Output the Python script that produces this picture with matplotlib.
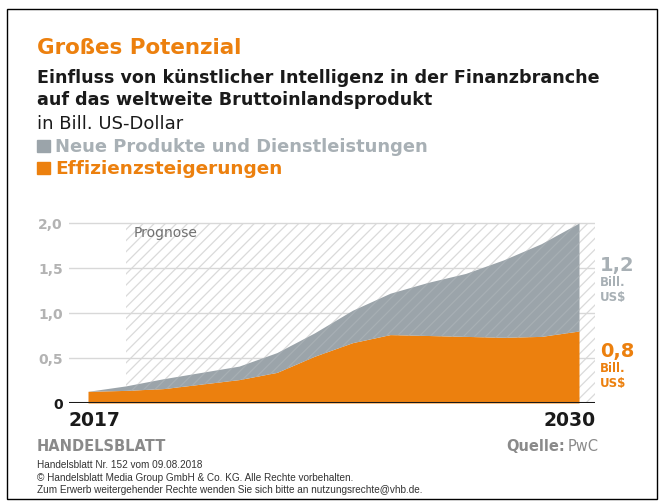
import matplotlib
matplotlib.use("Agg")
import matplotlib.pyplot as plt

# data (Bill. US-Dollar)
years = [2017, 2018, 2019, 2020, 2021, 2022, 2023, 2024, 2025, 2026, 2027, 2028, 2029, 2030]
effizienz = [0.13, 0.14, 0.16, 0.21, 0.26, 0.34, 0.52, 0.67, 0.76, 0.75, 0.74, 0.73, 0.74, 0.80]
neue_produkte = [0.00, 0.05, 0.11, 0.13, 0.15, 0.22, 0.26, 0.36, 0.46, 0.59, 0.70, 0.86, 1.03, 1.20]
prognose_start = 2018
y_ticks = [0, 0.5, 1.0, 1.5, 2.0]
y_tick_labels = ["0", "0,5", "1,0", "1,5", "2,0"]

ORANGE = "#EC800E"
GRAY = "#9BA4AA"
LEGEND_GRAY = "#A8B0B5"
TICK_GRAY = "#B3B3B3"

W, H = 661, 502
fig = plt.figure(figsize=(W / 100, H / 100), dpi=100)
plt.rcParams["hatch.linewidth"] = 0.9


def fy(y):
    return 1 - y / H


def fx(x):
    return x / W


# frame around the whole graphic
fig.patches.append(plt.Rectangle((fx(7), fy(500)), fx(650), (500 - 10) / H,
                                 transform=fig.transFigure, fill=False,
                                 edgecolor="black", linewidth=1))

head = "DejaVu Sans"
fig.text(fx(37), fy(48), "Großes Potenzial", color=ORANGE, fontsize=15.4,
         fontweight="bold", family=head, va="center")
fig.text(fx(37), fy(78), "Einfluss von künstlicher Intelligenz in der Finanzbranche",
         color="#1a1a1a", fontsize=12.6, fontweight="bold", family=head, va="center")
fig.text(fx(37), fy(100), "auf das weltweite Bruttoinlandsprodukt",
         color="#1a1a1a", fontsize=12.6, fontweight="bold", family=head, va="center")
fig.text(fx(37), fy(124), "in Bill. US-Dollar", color="#1a1a1a", fontsize=13,
         family=head, va="center")

# legend squares + labels
fig.patches.append(plt.Rectangle((fx(37), fy(153)), fx(13), 12 / H,
                                 transform=fig.transFigure, color=GRAY))
fig.text(fx(55), fy(147), "Neue Produkte und Dienstleistungen", color=LEGEND_GRAY,
         fontsize=12.9, fontweight="bold", family=head, va="center")
fig.patches.append(plt.Rectangle((fx(37), fy(175)), fx(13), 12 / H,
                                 transform=fig.transFigure, color=ORANGE))
fig.text(fx(55), fy(169), "Effizienzsteigerungen", color=ORANGE,
         fontsize=13.3, fontweight="bold", family=head, va="center")

# chart area
ax = fig.add_axes([fx(69), fy(404), fx(595 - 69), (404 - 219.5) / H])
px_year = (579 - 88) / 13
ax.set_xlim(years[0] - 19 / px_year, years[0] + 507 / px_year)
ax.set_ylim(0, 2.05)

# hatched forecast region
ax.fill_between([prognose_start, ax.get_xlim()[1]], 0, y_ticks[-1], facecolor="white",
                edgecolor="#DADADA", hatch="///", linewidth=0, zorder=0)

for t in y_ticks[1:]:
    ax.axhline(t, color="#D8D8D8", linewidth=1, zorder=1)

total = [a + b for a, b in zip(effizienz, neue_produkte)]
ax.fill_between(years, 0, effizienz, color=ORANGE, linewidth=0, zorder=2)
ax.fill_between(years, effizienz, total, color=GRAY, linewidth=0, zorder=2)
# faint stripes over the grey layer
ax.fill_between(years, effizienz, total, where=[y >= prognose_start for y in years],
                facecolor="none", edgecolor=(1, 1, 1, 0.12), hatch="///",
                linewidth=0, zorder=3)

ax.axhline(0, color="#1a1a1a", linewidth=2.2, zorder=4)

for s in ax.spines.values():
    s.set_visible(False)
ax.set_xticks([])
ax.set_yticks(y_ticks)
ax.set_yticklabels(y_tick_labels, fontsize=10, fontweight="bold", family=head)
ax.tick_params(axis="y", length=0, pad=4.5)
for i, lab in enumerate(ax.get_yticklabels()):
    lab.set_color("#1a1a1a" if i == 0 else TICK_GRAY)

ax.text(2018.2, 1.9, "Prognose", color="#707070", fontsize=10, family=head,
        va="center", zorder=5)

fig.text(fx(69), fy(420), str(years[0]), ha="left", va="center",
         fontsize=13.5, fontweight="bold", family=head, color="#1a1a1a")
fig.text(fx(596), fy(420), str(years[-1]), ha="right", va="center",
         fontsize=13.5, fontweight="bold", family=head, color="#1a1a1a")

# end labels right of the chart
fig.text(fx(600), fy(265), "1,2", color=LEGEND_GRAY, fontsize=14, fontweight="bold",
         family=head, va="center")
fig.text(fx(600), fy(283), "Bill.", color=LEGEND_GRAY, fontsize=8.5, fontweight="bold",
         family=head, va="center")
fig.text(fx(600), fy(297), "US$", color=LEGEND_GRAY, fontsize=8.5, fontweight="bold",
         family=head, va="center")
fig.text(fx(600), fy(352), "0,8", color=ORANGE, fontsize=14, fontweight="bold",
         family=head, va="center")
fig.text(fx(600), fy(369), "Bill.", color=ORANGE, fontsize=8.5, fontweight="bold",
         family=head, va="center")
fig.text(fx(600), fy(384), "US$", color=ORANGE, fontsize=8.5, fontweight="bold",
         family=head, va="center")

# footer
fig.text(fx(37), fy(447), "HANDELSBLATT", color="#8A8A8A", fontsize=10.5,
         fontweight="bold", family=head, va="center")
foot = "Liberation Sans"
fig.text(fx(37), fy(465), "Handelsblatt Nr. 152 vom 09.08.2018", color="#333333",
         fontsize=7.2, family=foot, va="center")
fig.text(fx(37), fy(478), "© Handelsblatt Media Group GmbH & Co. KG. Alle Rechte vorbehalten.",
         color="#333333", fontsize=7.2, family=foot, va="center")
fig.text(fx(37), fy(490), "Zum Erwerb weitergehender Rechte wenden Sie sich bitte an nutzungsrechte@vhb.de.",
         color="#333333", fontsize=7.2, family=foot, va="center")
fig.text(fx(568), fy(447), "PwC", color="#8A8A8A", fontsize=10.5, family=head,
         va="center", ha="left")
fig.text(fx(565), fy(447), "Quelle:", color="#8A8A8A", fontsize=10.5,
         fontweight="bold", family=head, va="center", ha="right")

fig.savefig("out.png", dpi=100)
